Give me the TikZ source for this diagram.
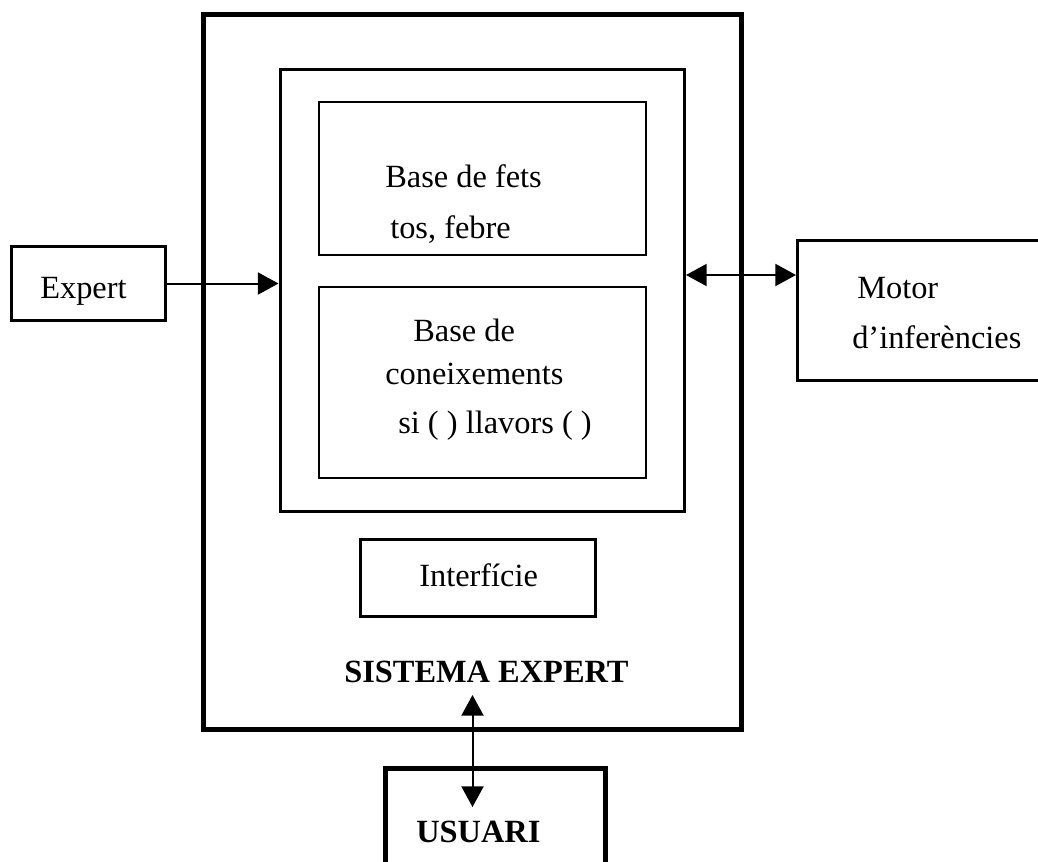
\documentclass[tikz,border=0pt]{standalone}
\usepackage{fontspec}
\setmainfont{Liberation Serif}
\usetikzlibrary{arrows.meta,fit}
\begin{document}
\begin{tikzpicture}[x=0.75pt,y=-0.75pt,
  heavybox/.style={draw, line width=3.75pt, inner sep=0pt},
  midbox/.style={draw, line width=2.25pt, inner sep=0pt},
  thinbox/.style={draw, line width=1.6pt, inner sep=0pt},
  txt/.style={anchor=base west, inner sep=0pt, font=\fontsize{24.3}{29}\selectfont},
  btxt/.style={txt, font=\fontsize{24.3}{29}\selectfont\bfseries},
  link/.style={line width=1.5pt, -{Triangle[length=15.5pt,width=16.5pt]}},
  dlink/.style={line width=1.5pt, {Triangle[length=15.5pt,width=16.5pt]}-{Triangle[length=15.5pt,width=16.5pt]}}]
\clip (0,0) rectangle (1038,861);

% outer system frame and its contents
\node[heavybox, fit={(203.5,14.5)(741,729)}] (sys) {};
\node[midbox, fit={(280,69.5)(684.5,511)}] (kb) {};
\node[thinbox, fit={(319,102)(646,255)}] (facts) {};
\node[thinbox, fit={(319,287)(646,478)}] (rules) {};
\node[midbox, fit={(360,539.5)(595,616)}] (ui) {};

% boxes outside the system
\node[midbox, fit={(11,246)(165,320.5)}] (expert) {};
\node[midbox, fit={(797.5,240)(1045,380)}] (motor) {};
\node[heavybox, fit={(385,768)(605,900)}] (user) {};

% texts
\node[txt] (tfacts1) at (385,187) {Base de fets};
\node[txt] (tfacts2) at (390,238) {tos, febre};
\node[txt] (trules1) at (413,341) {Base de};
\node[txt] (trules2) at (385,384) {coneixements};
\node[txt] (trules3) at (398,433) {si ( ) llavors ( )};
\node[txt] (tui) at (419,586) {Interfície};
\node[btxt] (tsys) at (344,682) {SISTEMA EXPERT};
\node[txt] (texpert) at (40,298) {Expert};
\node[txt] (tmotor1) at (857,298) {Motor};
\node[txt] (tmotor2) at (852,348) {d’inferències};
\node[btxt] (tuser) at (416,842) {USUARI};

% connectors
\coordinate (ya) at (0,283.5);
\coordinate (yb) at (0,275);
\coordinate (top) at (472.5,695);
\coordinate (bot) at (472.5,807);
\draw[link] (expert.east |- ya) -- (kb.west |- ya);
\draw[dlink] (kb.east |- yb) -- (motor.west |- yb);
\draw[dlink] (top) -- (bot);
\end{tikzpicture}
\end{document}
